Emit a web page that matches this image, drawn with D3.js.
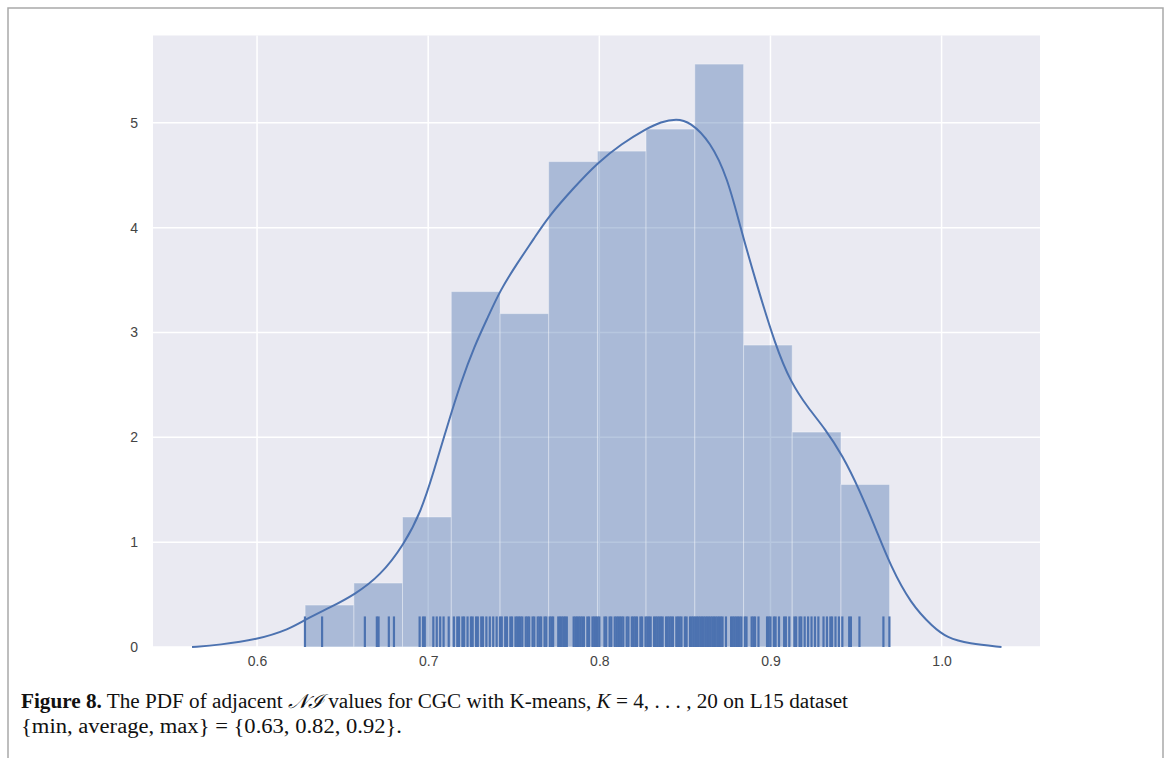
<!DOCTYPE html>
<html>
<head>
<meta charset="utf-8">
<script src="https://cdn.jsdelivr.net/npm/d3@7"></script>
<style>
  body { margin: 0; background: #fff; }
  svg { display: block; }
</style>
</head>
<body>
<div id="chart"></div>
<script>
// histogram (density) bins
const binEdges = [0.6281, 0.6566, 0.6850, 0.7135, 0.7420, 0.7704, 0.7989,
                  0.8273, 0.8558, 0.8843, 0.9127, 0.9412, 0.9696];
const binHeights = [0.40, 0.61, 1.24, 3.39, 3.18, 4.63, 4.73, 4.94, 5.56, 2.88, 2.05, 1.55];

// kde curve
const kdeX = [0.562, 0.578, 0.600, 0.619, 0.628, 0.643, 0.657, 0.672, 0.686, 0.696,
              0.703, 0.711, 0.719, 0.727, 0.735, 0.742, 0.752, 0.762, 0.770, 0.785,
              0.799, 0.813, 0.827, 0.836, 0.845, 0.853, 0.865, 0.875, 0.882, 0.891,
              0.903, 0.912, 0.922, 0.932, 0.942, 0.952, 0.962, 0.970, 0.982, 0.995,
              1.003, 1.016, 1.035];
const kdeY = [0.00, 0.02, 0.07, 0.17, 0.26, 0.38, 0.50, 0.68, 0.98, 1.30,
              1.66, 2.10, 2.52, 2.87, 3.15, 3.40, 3.66, 3.90, 4.10, 4.38,
              4.62, 4.80, 4.94, 5.01, 5.04, 5.01, 4.82, 4.47, 4.03, 3.51,
              2.87, 2.52, 2.28, 2.08, 1.83, 1.50, 1.11, 0.78, 0.41, 0.19,
              0.09, 0.03, 0.00];

// rug marks
const rugValues = [
  0.628, 0.638,
  0.663, 0.670, 0.671, 0.677, 0.680,
  0.695, 0.697, 0.698, 0.703, 0.705, 0.707, 0.709, 0.712,
  0.715, 0.717, 0.718, 0.720, 0.721, 0.723, 0.725, 0.726, 0.728, 0.729, 0.731, 0.732,
  0.734, 0.736, 0.738, 0.740,
  0.742, 0.743, 0.745, 0.746, 0.748, 0.749, 0.751, 0.752, 0.753, 0.754, 0.755, 0.757,
  0.758, 0.759, 0.761, 0.762, 0.764, 0.765, 0.766, 0.768, 0.769,
  0.771, 0.772, 0.773, 0.776, 0.777, 0.778, 0.779, 0.780, 0.781, 0.785, 0.786, 0.787,
  0.788, 0.789, 0.790, 0.791, 0.793, 0.794, 0.796, 0.797, 0.798,
  0.799, 0.800, 0.803, 0.804, 0.806, 0.807, 0.809, 0.810, 0.811, 0.812, 0.813, 0.814,
  0.816, 0.817, 0.819, 0.820, 0.821, 0.822, 0.824, 0.825, 0.827,
  0.828, 0.829, 0.830, 0.832, 0.833, 0.834, 0.835, 0.836, 0.837, 0.839, 0.840, 0.841,
  0.842, 0.843, 0.845, 0.846, 0.847, 0.848, 0.850, 0.851, 0.853, 0.854, 0.855,
  0.856, 0.857, 0.858, 0.859, 0.860, 0.861, 0.862, 0.863, 0.864, 0.865, 0.866, 0.867,
  0.868, 0.869, 0.870, 0.871, 0.872, 0.874, 0.877, 0.878, 0.879, 0.880, 0.881, 0.882, 0.883,
  0.885, 0.886, 0.889, 0.890, 0.891, 0.893, 0.898, 0.899, 0.900, 0.902, 0.903, 0.905,
  0.908, 0.909, 0.911,
  0.914, 0.915, 0.917, 0.918, 0.920, 0.922, 0.924, 0.926, 0.928, 0.931, 0.933, 0.935,
  0.936, 0.938,
  0.940, 0.942, 0.946, 0.947, 0.952, 0.966, 0.9695
];

const xTicks = [0.6, 0.7, 0.8, 0.9, 1.0];
const yTicks = [0, 1, 2, 3, 4, 5];

const width = 1167, height = 758;
const plot = { left: 153, right: 1040, top: 35.5, bottom: 647 };

const svg = d3.select("#chart").append("svg")
    .attr("width", width)
    .attr("height", height);

// page frame
svg.append("path")
    .attr("d", `M8,${height}V8H1163V${height}`)
    .attr("fill", "none")
    .attr("stroke", "#a9a9a9")
    .attr("stroke-width", 1.5);

const x = d3.scaleLinear().domain([0.5392, 1.0575]).range([plot.left, plot.right]);
const y = d3.scaleLinear().domain([0, 5.833]).range([plot.bottom, plot.top]);

// axes background
svg.append("rect")
    .attr("x", plot.left)
    .attr("y", plot.top)
    .attr("width", plot.right - plot.left)
    .attr("height", plot.bottom - plot.top)
    .attr("fill", "#eaeaf2");

// grid
const grid = svg.append("g");
grid.selectAll(".gx").data(xTicks).join("line")
    .attr("x1", d => x(d)).attr("x2", d => x(d))
    .attr("y1", plot.top).attr("y2", plot.bottom)
    .attr("stroke", "#fff").attr("stroke-width", 1.5);
grid.selectAll(".gy").data(yTicks).join("line")
    .attr("x1", plot.left).attr("x2", plot.right)
    .attr("y1", d => y(d)).attr("y2", d => y(d))
    .attr("stroke", "#fff").attr("stroke-width", 1.5);

const blue = "#4c72b0";

// histogram bars
svg.append("g").selectAll("rect").data(binHeights).join("rect")
    .attr("x", (d, i) => x(binEdges[i]))
    .attr("width", (d, i) => x(binEdges[i + 1]) - x(binEdges[i]))
    .attr("y", d => y(d))
    .attr("height", d => y(0) - y(d))
    .attr("fill", blue)
    .attr("fill-opacity", 0.4)
    .attr("stroke", "#fff")
    .attr("stroke-opacity", 0.35)
    .attr("stroke-width", 1);

// kde
const kdePts = kdeX.map((v, i) => [v, kdeY[i]]);
svg.append("path")
    .datum(kdePts)
    .attr("fill", "none")
    .attr("stroke", blue)
    .attr("stroke-width", 2)
    .attr("d", d3.line()
        .x(d => x(d[0]))
        .y(d => y(d[1]))
        .curve(d3.curveBasis));

// rug, 5% of the axes height
const rugTop = plot.bottom - 0.05 * (plot.bottom - plot.top);
svg.append("g").selectAll("line").data(rugValues).join("line")
    .attr("x1", d => x(d)).attr("x2", d => x(d))
    .attr("y1", plot.bottom).attr("y2", rugTop)
    .attr("stroke", blue)
    .attr("stroke-width", 2.2);

// tick labels
const xAxis = d3.axisBottom(x).tickValues(xTicks).tickFormat(d3.format(".1f")).tickSize(0).tickPadding(9);
const yAxis = d3.axisLeft(y).tickValues(yTicks).tickFormat(d3.format("d")).tickSize(0).tickPadding(15);

const gx = svg.append("g").attr("transform", `translate(0,${plot.bottom})`).call(xAxis);
const gy = svg.append("g").attr("transform", `translate(${plot.left},0)`).call(yAxis);
[gx, gy].forEach(g => {
    g.select(".domain").remove();
    g.selectAll("text")
        .style("font-family", "Arial, 'Liberation Sans', sans-serif")
        .style("font-size", "14px")
        .attr("fill", "#444");
});

// caption
const cap = svg.append("g")
    .style("font-family", "'Liberation Serif', 'DejaVu Serif', serif")
    .style("font-size", "20px")
    .attr("fill", "#111");

const line1 = cap.append("text").attr("x", 21).attr("y", 708)
    .attr("textLength", 827).attr("lengthAdjust", "spacingAndGlyphs");
line1.append("tspan").attr("font-weight", "bold").text("Figure 8.");
line1.append("tspan").text(" The PDF of adjacent ");
line1.append("tspan").attr("font-style", "italic").text("𝒩ℐ");
line1.append("tspan").text(" values for CGC with K-means, ");
line1.append("tspan").attr("font-style", "italic").text("K");
line1.append("tspan").text(" = 4, . . . , 20 on L15 dataset");

cap.append("text").attr("x", 21).attr("y", 733)
    .attr("textLength", 381).attr("lengthAdjust", "spacingAndGlyphs")
    .text("{min, average, max} = {0.63, 0.82, 0.92}.");
</script>
</body>
</html>
